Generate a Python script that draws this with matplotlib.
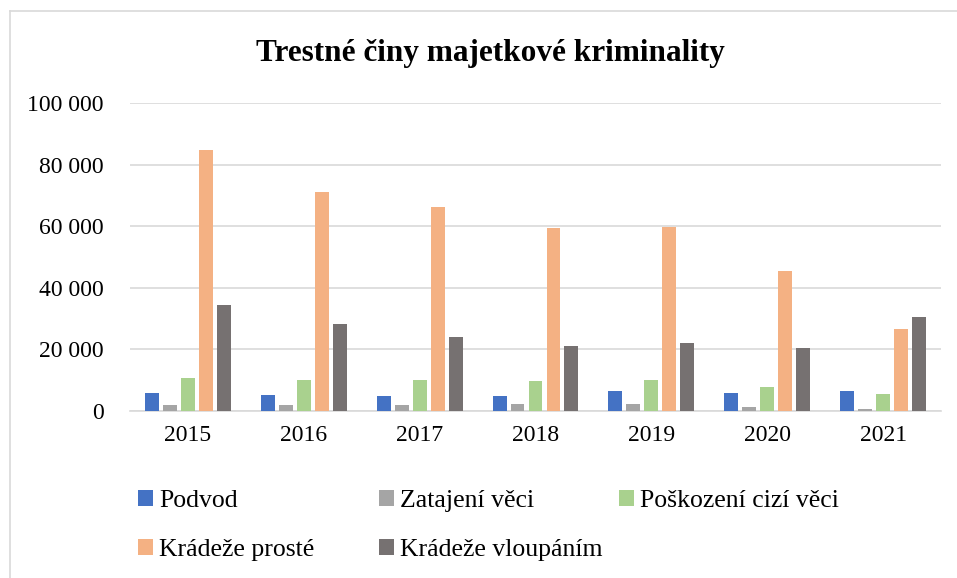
import numpy as np
import matplotlib.pyplot as plt
from matplotlib.lines import Line2D
from matplotlib.patches import Patch
from matplotlib.ticker import FuncFormatter

plt.rcParams['font.family'] = ['Liberation Serif', 'DejaVu Serif']

# data
years = ['2015', '2016', '2017', '2018', '2019', '2020', '2021']
series = ['Podvod', 'Zatajení věci', 'Poškození cizí věci', 'Krádeže prosté', 'Krádeže vloupáním']
podvod = [5750, 5200, 5000, 5000, 6400, 5750, 6600]
zatajeni = [2050, 2050, 2050, 2300, 2300, 1200, 750]
poskozeni = [10800, 10100, 10100, 9750, 10100, 7800, 5500]
kradeze_proste = [84800, 71200, 66200, 59400, 59800, 45500, 26500]
kradeze_vloupanim = [34300, 28200, 23900, 21000, 22000, 20600, 30600]
colors = ['#4472C4', '#A5A5A5', '#A9D18E', '#F4B183', '#767171']

values = [podvod, zatajeni, poskozeni, kradeze_proste, kradeze_vloupanim]

fig = plt.figure(figsize=(9.57, 5.78), dpi=100)
W, H = 957, 578
ax = fig.add_axes([130 / W, 1 - 411 / H, (941 - 130) / W, (411 - 103) / H])

x = np.arange(len(years))
step = 0.155
width = 0.12
for i, (vals, col) in enumerate(zip(values, colors)):
    ax.bar(x + (i - 2) * step, vals, width, color=col, zorder=3)

ax.set_xlim(-0.5, len(years) - 0.5)
ax.set_ylim(0, 100000)
ax.set_yticks(range(0, 100001, 20000))
ax.yaxis.set_major_formatter(FuncFormatter(lambda v, p: f'{int(v):,}'.replace(',', ' ')))
ax.set_xticks(x)
ax.set_xticklabels(years)
ax.tick_params(axis='both', length=0, labelsize=17, colors='black')
ax.tick_params(axis='y', pad=19)
ax.tick_params(axis='x', pad=10)
ax.grid(axis='y', color='#D9D9D9', linewidth=1.2, zorder=0)
for s in ['top', 'right', 'left']:
    ax.spines[s].set_visible(False)
ax.spines['bottom'].set_color('#D9D9D9')
ax.spines['bottom'].set_linewidth(1.2)

fig.text(490 / W, 1 - 53 / H, 'Trestné činy majetkové kriminality',
         ha='center', va='center', fontsize=22.5, fontweight='bold')

# legend entries laid out like the original (two rows)
slots = [(138, 501), (379, 501), (619, 501), (138, 550), (379, 550)]
for name, col, (lx, ly) in zip(series, colors, slots):
    fig.legend(handles=[Patch(facecolor=col)], labels=[name],
               loc='center left', bbox_to_anchor=(lx / W, 1 - ly / H),
               frameon=False, fontsize=18.5, borderpad=0, borderaxespad=0,
               handlelength=0.58, handleheight=0.58, handletextpad=0.25)

# thin chart border (left and top visible)
fig.add_artist(Line2D([10 / W, 10 / W], [0, 1 - 11 / H], color='#D9D9D9', lw=1.2))
fig.add_artist(Line2D([10 / W, 1], [1 - 11 / H, 1 - 11 / H], color='#D9D9D9', lw=1.2))

fig.savefig('out.png', dpi=100)
